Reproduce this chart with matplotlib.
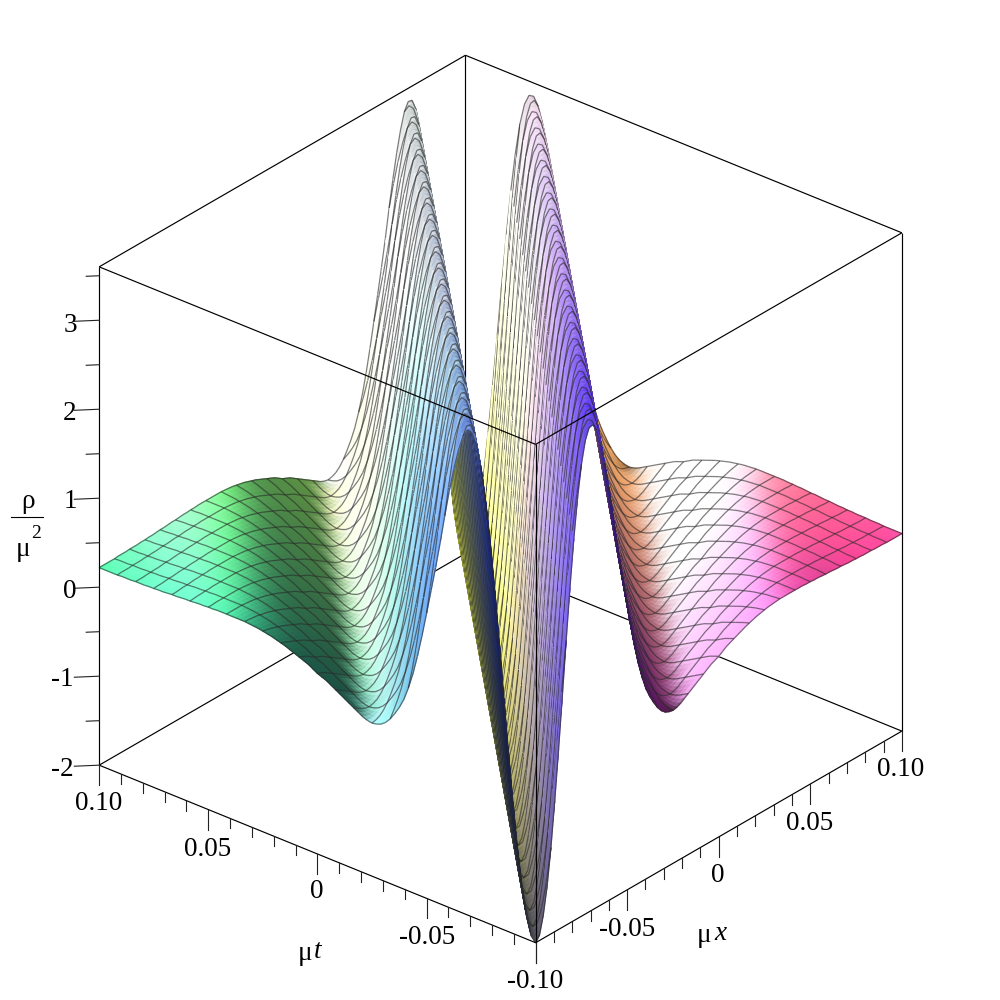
import numpy as np
import matplotlib
matplotlib.use("Agg")
import matplotlib.pyplot as plt
from mpl_toolkits.mplot3d.art3d import Poly3DCollection

# rho/mu^2 read off the picture against |mu x - mu t|, one value per grid offset
# (offset 0 is the valley floor on the diagonal, offset 96 the far corners)
rho_by_offset = [
    -2.00, -1.94, -1.74, -1.44, -1.03, -0.53, 0.02, 0.60, 1.20, 1.77, 2.29, 2.73, 3.08, 3.32, 3.44, 3.45,
    3.36, 3.18, 2.95, 2.68, 2.38, 2.06, 1.76, 1.48, 1.20, 0.93, 0.68, 0.46, 0.28, 0.13, 0.02, -0.07,
    -0.15, -0.21, -0.25, -0.27, -0.28, -0.27, -0.25, -0.22, -0.19, -0.16, -0.13, -0.10, -0.07, -0.04, -0.01, 0.01,
    0.03, 0.06, 0.09, 0.11, 0.13, 0.15, 0.17, 0.19, 0.205, 0.22, 0.235, 0.245, 0.255, 0.265, 0.27, 0.275,
    0.28, 0.28, 0.28, 0.28, 0.28, 0.28, 0.28, 0.275, 0.275, 0.27, 0.27, 0.265, 0.26, 0.26, 0.255, 0.25,
    0.25, 0.245, 0.24, 0.24, 0.235, 0.235, 0.23, 0.23, 0.23, 0.225, 0.225, 0.225, 0.22, 0.22, 0.22, 0.22, 0.22,
]

x_limits = (-0.10, 0.10)
t_limits = (-0.10, 0.10)
z_limits = (-2.0, 3.6)

tick_labels = ["-0.10", "-0.05", "0", "0.05", "0.10"]
z_labels = ["-2", "-1", "0", "1", "2", "3"]

ELEV, AZIM = 29, 220
EDGE_PX = 570.0
CELLS = 96
MESH_EVERY = 4

plt.rcParams['font.family'] = ['Liberation Serif', 'DejaVu Serif']

fig = plt.figure(figsize=(10, 10), dpi=100)
ax = fig.add_axes([-0.013, -0.0125, 1, 1], projection='3d', computed_zorder=False)
ax.set_proj_type('ortho')
ax.view_init(elev=ELEV, azim=AZIM)
ax.set_box_aspect((1, 1, 1), zoom=0.958)
ax.set_xlim(*x_limits, view_margin=0)
ax.set_ylim(*t_limits, view_margin=0)
ax.set_zlim(*z_limits, view_margin=0)
ax.set_axis_off()

# Surface heights, looked up from the table
x = np.linspace(x_limits[0], x_limits[1], CELLS + 1)
t = np.linspace(t_limits[0], t_limits[1], CELLS + 1)
X, T = np.meshgrid(x, t, indexing='ij')
idx = np.arange(CELLS + 1)
Z = np.asarray(rho_by_offset)[np.abs(idx[:, None] - idx[None, :])]

# Colour the mesh vertices by position (x -> red, t -> green, z -> blue) plus a light from the left
Xm, Tm, Zm = X[::MESH_EVERY, ::MESH_EVERY], T[::MESH_EVERY, ::MESH_EVERY], Z[::MESH_EVERY, ::MESH_EVERY]
base = np.dstack([(Xm - x_limits[0]) / 0.2, (Tm - t_limits[0]) / 0.2, (Zm - z_limits[0]) / 5.6])
dzdx, dzdt = np.gradient(Zm / 5.6, MESH_EVERY / CELLS)
tilt = np.degrees(np.arctan((dzdx - dzdt) / np.sqrt(2)))
lit = 0.33 + 0.42 * (1 - np.exp(-np.maximum(tilt, 0) / 12)) * np.exp(-(np.maximum(tilt - 55, 0) / 22) ** 2)
shaded = 0.08 + 0.25 * np.exp(np.minimum(tilt, 0) / 15)
sheen = np.where(tilt >= 0, lit, shaded)
diffuse = 1.0 - 0.55 * np.exp(-((tilt + 30) / 25) ** 2) - 0.5 * np.exp(-((tilt + 84) / 7) ** 2)
vertex_rgb = np.clip(base * diffuse[..., None] + sheen[..., None], 0, 1)


def smooth_shade(colours):
    # Gouraud style: blend the vertex colours across each mesh cell
    coarse = np.arange(colours.shape[0]) * MESH_EVERY
    fine = np.arange(CELLS + 1)
    out = np.empty((CELLS + 1, CELLS + 1, 3))
    for c in range(3):
        rows = np.array([np.interp(fine, coarse, colours[i, :, c]) for i in range(colours.shape[0])])
        out[:, :, c] = np.array([np.interp(fine, coarse, rows[:, j]) for j in range(CELLS + 1)]).T
    return out


rgb = smooth_shade(vertex_rgb)
face_rgb = (rgb[:-1, :-1] + rgb[1:, :-1] + rgb[:-1, 1:] + rgb[1:, 1:]) / 4

verts = []
faces = []
edges = []
for i in range(CELLS):
    for j in range(CELLS):
        verts.append([(X[a, b], T[a, b], Z[a, b]) for a, b in
                      ((i, j), (i + 1, j), (i + 1, j + 1), (i, j + 1))])
        col = (*face_rgb[i, j], 1.0)
        faces.append(col)
        edges.append(col)

# Mesh lines go in the same collection so they get hidden with the surface.
# They are pushed along the view direction only, which sorts them in front of their own faces.
bias = 0.03
el, az = np.radians(ELEV), np.radians(AZIM)
view = np.array([np.cos(el) * np.cos(az) * 0.2, np.cos(el) * np.sin(az) * 0.2, np.sin(el) * 5.6]) * bias
mesh_col = (0.16, 0.16, 0.16, 0.6)
for i in range(0, CELLS + 1, MESH_EVERY):
    for j in range(CELLS):
        verts.append([(X[i, j] + view[0], T[i, j] + view[1], Z[i, j] + view[2]),
                      (X[i, j + 1] + view[0], T[i, j + 1] + view[1], Z[i, j + 1] + view[2])])
        faces.append(mesh_col)
        edges.append(mesh_col)
        verts.append([(X[j, i] + view[0], T[j, i] + view[1], Z[j, i] + view[2]),
                      (X[j + 1, i] + view[0], T[j + 1, i] + view[1], Z[j + 1, i] + view[2])])
        faces.append(mesh_col)
        edges.append(mesh_col)

surf = Poly3DCollection(verts, facecolors=faces, edgecolors=edges, linewidths=0.9, zorder=2)
ax.add_collection3d(surf, autolim=False)

xa, xb = x_limits
ta, tb = t_limits
za, zb = z_limits


def box_line(p, q, zorder):
    ax.plot([p[0], q[0]], [p[1], q[1]], [p[2], q[2]], color='black', lw=0.85, zorder=zorder,
            solid_capstyle='butt')


# Back edges stay behind the surface
for p, q in [((xb, tb, za), (xa, tb, za)), ((xb, tb, za), (xb, ta, za)), ((xb, tb, za), (xb, tb, zb)),
             ((xb, tb, zb), (xa, tb, zb)), ((xb, tb, zb), (xb, ta, zb))]:
    box_line(p, q, 1)

# Front edges are drawn over it
for p, q in [((xa, ta, za), (xa, tb, za)), ((xa, ta, za), (xb, ta, za)), ((xa, ta, za), (xa, ta, zb)),
             ((xa, ta, zb), (xa, tb, zb)), ((xa, ta, zb), (xb, ta, zb)),
             ((xa, tb, za), (xa, tb, zb)), ((xb, ta, za), (xb, ta, zb))]:
    box_line(p, q, 3)

# Ticks
px_z = 5.6 / (EDGE_PX * np.cos(el))


def tick_down(px, py, length):
    ax.plot([px, px], [py, py], [za, za - length * px_z], color='#222222', lw=0.8, zorder=3)


for v in np.arange(-10, 11) / 100:
    length = 20 if abs(round(v * 100)) % 5 == 0 else 10
    tick_down(xa, v, length)
    tick_down(v, ta, length)

for v in np.arange(-4, 8) / 2:
    length = 23 if float(v).is_integer() else 12
    ax.plot([xa, xa - length / EDGE_PX * 0.2 * np.cos(np.radians(40))],
            [tb, tb + length / EDGE_PX * 0.2 * np.sin(np.radians(50))],
            [v, v], color='#222222', lw=0.8, zorder=3)


def label(px, py, s, size=19.5, **kw):
    fig.text(px / 1000, 1 - py / 1000, s, fontsize=size, ha='center', va='center', **kw)


for s, px, py in zip(tick_labels[::-1], [99, 208, 317, 427, 535], [804, 849, 892, 937, 982]):
    label(px, py, s)
for s, px, py in zip(tick_labels[1:], [627, 718, 810, 901], [929, 875, 823, 769]):
    label(px, py, s)
for s, px, py in zip(z_labels, [62, 62, 70, 70, 70, 70], [769, 680, 591, 502, 414, 325]):
    label(px, py, s)

label(28, 501, "ρ")
label(23, 549, "μ")
label(36, 533, "2", size=14)
fig.add_artist(plt.Line2D([11 / 1000, 43 / 1000], [1 - 517 / 1000, 1 - 517 / 1000], color='black', lw=0.8))
label(305, 953, "μ")
label(318, 952, "t", style='italic')
label(704, 935, "μ")
label(720, 934, "x", style='italic')

fig.savefig("out.png", dpi=100)
